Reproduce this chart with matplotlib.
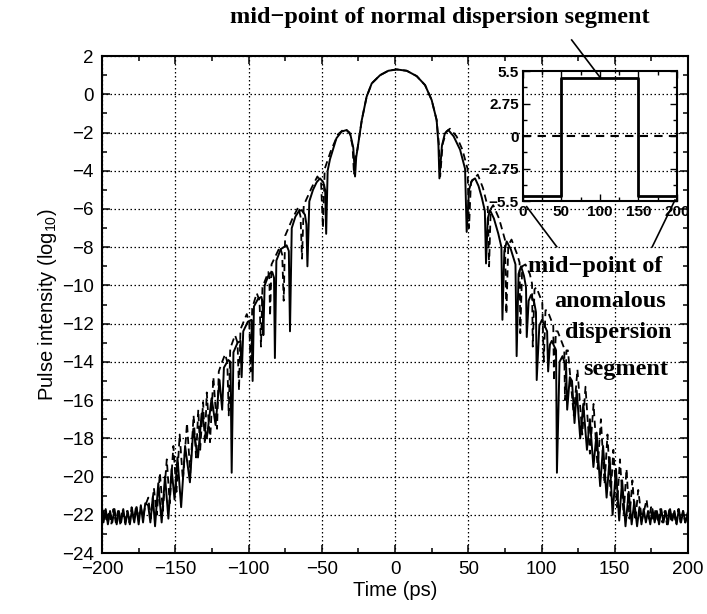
import matplotlib
matplotlib.use('Agg')
import matplotlib.pyplot as plt
from matplotlib.lines import Line2D
import numpy as np

plt.rcParams['font.family'] = ['Liberation Sans', 'DejaVu Sans']
plt.rcParams['mathtext.default'] = 'regular'

# ---- pulse intensity (log10) vs time (ps) ----
# central lobe, shared by both curves
core = [(-25.7, -2.9), (-22.7, -1.35), (-19.4, -0.13), (-15.9, 0.57), (-10.2, 1.0),
        (-4.6, 1.23), (1.1, 1.30), (8.0, 1.23), (14.8, 0.95), (20.5, 0.48),
        (25.0, -0.3), (28.4, -1.35)]

# solid curve
solid_floor_left = [(-200, -21.9), (-199, -22.4), (-197.5, -21.7), (-196, -22.5), (-194.5, -21.8),
                    (-193, -22.4), (-191.5, -21.7), (-190, -22.5), (-188.5, -21.8), (-187, -22.4),
                    (-185.5, -21.7), (-184, -22.5), (-182.5, -21.8), (-181, -22.5), (-179.5, -21.7),
                    (-178, -22.4), (-176.5, -21.6), (-175, -22.5), (-173.5, -21.5), (-172, -22.4),
                    (-170.5, -21.4)]
solid_left = [(-168.5, -21.5), (-167, -22.4), (-165.3, -21.05), (-163.8, -22.6), (-161.6, -20.35),
              (-159.3, -22.4), (-157, -20.0), (-154.7, -22.2), (-152.5, -19.6), (-150.5, -21.2),
              (-148.5, -19.0), (-146, -21.6), (-143.3, -18.4), (-140, -20.3), (-137.7, -17.5),
              (-134.5, -19.0), (-132, -16.7), (-128.5, -18.0), (-125.2, -15.9), (-122.5, -17.3),
              (-119.8, -14.95), (-118, -16.5), (-116.8, -14.3), (-113.8, -13.9), (-112.3, -14.0),
              (-111.5, -19.8), (-110.3, -13.5), (-107.5, -13.0), (-105.5, -12.9), (-104.7, -14.8),
              (-103.6, -12.4), (-100.5, -11.9), (-98, -11.8), (-97.2, -15.0), (-96.3, -11.1),
              (-93.5, -10.7), (-91.2, -10.6), (-90.4, -10.9), (-89.9, -12.6), (-89, -10.0),
              (-86, -9.4), (-83.8, -9.3), (-82.6, -9.6), (-82, -13.8), (-81, -8.7),
              (-78, -8.1), (-74, -7.9), (-72.5, -8.2), (-71.7, -12.4), (-70.5, -7.0),
              (-68, -6.4), (-65.5, -6.1), (-63.8, -6.06), (-61.5, -6.3), (-60.5, -6.8),
              (-59.8, -9.0), (-58.5, -5.6), (-56, -5.0), (-53.5, -4.6), (-51.2, -4.4),
              (-49, -4.6), (-47.7, -5.0), (-47, -7.3), (-46, -4.0), (-44.4, -3.4),
              (-40, -2.3), (-36.5, -1.95), (-33, -1.87), (-30.5, -2.1), (-28.5, -2.8),
              (-27.3, -4.3), (-26.5, -3.3)]
solid_right = [(29.6, -2.6), (30.3, -4.4), (32, -2.7), (34, -2.05), (36.4, -1.87),
               (40, -2.2), (44.4, -2.9), (47.8, -3.9), (48.9, -7.2), (50.5, -5.0),
               (52.5, -4.5), (54.6, -4.4), (57, -4.8), (59.2, -5.4), (61.3, -6.1),
               (62.1, -8.85), (63.3, -6.5), (64.8, -6.06), (67.5, -6.5), (70.5, -7.3),
               (72.6, -8.0), (73.3, -11.8), (74.6, -8.2), (76.2, -7.7), (79, -8.1),
               (82.2, -8.9), (83, -13.7), (84.3, -9.4), (86, -9.0), (88, -9.5),
               (89.4, -10.1), (89.9, -12.7), (91.2, -10.8), (92.8, -10.5), (95, -10.9),
               (96.2, -11.4), (96.7, -14.95), (98.5, -12.1), (100.3, -11.8), (103.8, -12.4),
               (104.5, -14.5), (105.7, -13.1), (107, -12.9), (109.9, -13.4), (110.5, -19.8),
               (112.3, -14.0), (114.3, -13.7), (116.8, -14.3), (117.5, -16.5), (119.3, -14.8),
               (120.8, -15.0), (122.5, -17.2), (124, -15.5), (126.4, -18.0), (128.5, -16.2),
               (131, -18.6), (133, -17.0), (135.4, -19.5), (137.6, -17.7), (140, -20.5),
               (142, -18.4), (144.4, -21.1), (146.5, -19.0), (148.5, -22.0), (150.8, -19.6),
               (153, -22.3), (155, -20.2), (157.3, -22.6), (159.5, -20.8), (161.5, -22.5),
               (163.3, -21.3), (165.2, -22.6), (166.8, -21.6)]
solid_floor_right = [(168.2, -22.5), (169.7, -21.7), (171.2, -22.4), (172.7, -21.8), (174.2, -22.5),
                     (175.7, -21.7), (177.2, -22.4), (178.7, -21.8), (180.2, -22.5), (181.7, -21.7),
                     (183.2, -22.4), (184.7, -21.8), (186.2, -22.5), (187.7, -21.7), (189.2, -22.3),
                     (190.7, -21.8), (192.2, -22.5), (193.7, -21.7), (195.2, -22.4), (196.7, -21.8),
                     (198.2, -22.4), (200, -21.9)]

# dashed curve
dash_floor_left = [(-200, -22.1), (-198.3, -21.7), (-196.8, -22.4), (-195.2, -21.8), (-193.7, -22.5),
                   (-192.2, -21.7), (-190.6, -22.4), (-189.1, -21.8), (-187.5, -22.5), (-186, -21.7),
                   (-184.4, -22.4), (-182.9, -21.8), (-181.3, -22.4), (-179.8, -21.6), (-178.2, -22.3),
                   (-176.7, -21.5), (-175.1, -22.2), (-173.6, -21.6), (-172, -22.1), (-170.4, -21.5)]
dash_left = [(-168.4, -21.1), (-166.8, -22.2), (-164.6, -20.6), (-162.6, -22.0), (-160.5, -19.8),
             (-158.5, -21.8), (-155.8, -19.1), (-153.8, -21.4), (-151.3, -18.4), (-149.2, -20.8),
             (-147, -17.8), (-144.8, -20.2), (-142, -17.2), (-139.8, -19.8), (-137.5, -16.8),
             (-135.8, -19.0), (-134.3, -16.5), (-133, -18.6), (-131, -16.1), (-129.8, -18.3),
             (-128.5, -15.6), (-126.3, -18.2), (-124, -14.8), (-121.5, -17.5), (-120.3, -14.5),
             (-118, -14.0), (-116, -13.6), (-114.5, -14.0), (-113.5, -16.8), (-112.5, -13.3),
             (-109.2, -12.6), (-107.5, -13.0), (-106.5, -15.5), (-105.5, -12.3), (-101.2, -11.5),
             (-99.5, -11.9), (-98.5, -14.5), (-97.5, -11.2), (-94.4, -10.4), (-92.5, -10.8),
             (-91.5, -13.2), (-90.5, -10.1), (-86.5, -9.3), (-85.8, -9.6), (-85.3, -11.6),
             (-84.3, -8.9), (-78.5, -7.97), (-77, -8.4), (-76, -10.8), (-75, -7.4),
             (-70, -6.5), (-66, -5.9), (-64.5, -6.4), (-63.5, -8.6), (-62.3, -5.8),
             (-57, -4.9), (-53, -4.3), (-50.5, -4.6), (-49.2, -7.0), (-48, -3.9),
             (-44, -3.0), (-39, -2.1), (-34.5, -1.8), (-31, -2.0), (-29, -2.7),
             (-28, -4.2), (-27, -3.2)]
dash_right = [(29.8, -2.5), (30.8, -4.3), (32.5, -2.6), (35, -1.95), (37.5, -1.8),
              (42, -2.2), (46, -2.9), (49.5, -3.9), (50.5, -7.0), (51.8, -4.6),
              (56.5, -4.2), (60, -4.9), (63.3, -5.9), (64.2, -9.0), (65.3, -6.0),
              (67, -5.8), (71, -6.5), (75, -7.6), (76, -11.5), (77.3, -7.9),
              (79.5, -7.6), (83, -8.3), (85, -8.8), (85.5, -12.5), (86.8, -9.0),
              (89, -8.9), (92, -9.4), (93.5, -9.9), (94, -13.2), (95.2, -10.2),
              (96.5, -10.1), (100.5, -10.9), (101.5, -14.0), (102.7, -11.3), (104, -11.3),
              (108, -12.1), (108.5, -15.0), (109.8, -12.4), (111, -12.4), (115.5, -13.3),
              (116, -16.0), (117, -13.4), (118, -13.4), (122, -16.8), (124.5, -14.4),
              (127.8, -17.8), (130, -15.3), (133, -18.8), (135.5, -16.2), (138.3, -19.6),
              (140.5, -17.0), (143, -20.4), (145, -17.8), (147.2, -21.0), (149, -18.6),
              (151.5, -21.6), (153.5, -19.1), (156, -22.0), (158, -19.6), (160, -22.2),
              (162, -20.2), (164, -22.3), (166, -20.7), (168.5, -22.3), (171.7, -21.2)]
dash_floor_right = [(173.2, -22.2), (174.8, -21.6), (176.3, -22.3), (177.9, -21.7), (179.4, -22.4),
                    (181, -21.7), (182.5, -22.4), (184.1, -21.8), (185.6, -22.5), (187.2, -21.7),
                    (188.7, -22.4), (190.3, -21.8), (191.8, -22.5), (193.4, -21.7), (194.9, -22.4),
                    (196.5, -21.8), (198, -22.4), (200, -21.8)]

# inset: dispersion map along the span
map_x = [0, 50, 50, 150, 150, 200]
map_y = [-5.1, -5.1, 4.9, 4.9, -5.1, -5.1]
zero_x = [0, 200]
zero_y = [0, 0]

solid = np.array(solid_floor_left + solid_left + core + solid_right + solid_floor_right)
dashed = np.array(dash_floor_left + dash_left + core + dash_right + dash_floor_right)

fig = plt.figure(figsize=(7.07, 6.14), dpi=100)
ax = fig.add_axes([0.1443, 0.0993, 0.8289, 0.8094])

ax.plot(solid[:, 0], solid[:, 1], '-', color='black', lw=1.4)
ax.plot(dashed[:, 0], dashed[:, 1], '--', color='black', lw=1.3, dashes=(4, 2.5))

ax.set_xlim(-200, 200)
ax.set_ylim(-24, 2)
ax.set_xticks(np.arange(-200, 201, 50))
ax.set_xticks(np.arange(-175, 200, 50), minor=True)
ax.set_yticks(np.arange(-24, 3, 2))
ax.set_yticks(np.arange(-23, 2, 2), minor=True)
ax.grid(True, which='major', color='black', linestyle=(0, (1.2, 2)), lw=0.9)
ax.tick_params(which='both', direction='in', top=True, right=True, width=1.1)
ax.tick_params(which='major', length=6, labelsize=13.5, pad=6)
ax.tick_params(which='minor', length=3.5)
for s in ax.spines.values():
    s.set_linewidth(1.5)
ax.set_xlabel('Time (ps)', fontsize=14.5, labelpad=2)
ax.set_ylabel('Pulse intensity (log$_{10}$)', fontsize=14.5, labelpad=2)

# inset
axi = fig.add_axes([0.7397, 0.6726, 0.2178, 0.2117], facecolor='none')
axi.plot(map_x, map_y, '-', color='black', lw=2.0)
axi.plot(zero_x, zero_y, '--', color='black', lw=1.5, dashes=(4, 3))
axi.set_xlim(0, 200)
axi.set_ylim(-5.5, 5.5)
axi.set_xticks([0, 50, 100, 150, 200])
axi.set_xticks([25, 75, 125, 175], minor=True)
axi.set_yticks([-5.5, -2.75, 0, 2.75, 5.5])
axi.set_yticklabels(['\u22125.5', '\u22122.75', '0', '2.75', '5.5'])
axi.set_yticks([-4.125, -1.375, 1.375, 4.125], minor=True)
axi.tick_params(which='both', direction='in', top=True, right=True, width=1)
axi.tick_params(which='major', length=5, labelsize=11, pad=3)
axi.tick_params(which='minor', length=3)
for lab in axi.get_xticklabels() + axi.get_yticklabels():
    lab.set_fontweight('bold')
for s in axi.spines.values():
    s.set_linewidth(1.5)

# annotations
W, H = 707.0, 614.0
def fp(x, y):
    return (x / W, 1 - y / H)

serif = dict(family=['Liberation Serif', 'DejaVu Serif'], fontweight='bold', fontsize=17.5)
fig.text(*fp(440, 23), 'mid\u2212point of normal dispersion segment', ha='center', va='baseline', **serif)
fig.text(*fp(528, 271.7), 'mid\u2212point of', ha='left', va='baseline', **serif)
fig.text(*fp(554, 306.7), 'anomalous', ha='left', va='baseline', **serif)
fig.text(*fp(565, 338), 'dispersion', ha='left', va='baseline', **serif)
fig.text(*fp(583, 375), 'segment', ha='left', va='baseline', **serif)

for (x0, y0), (x1, y1) in [((571.7, 40), (600, 77.3)),
                           ((556.7, 246.7), (526.7, 206.7)),
                           ((652.3, 246.7), (675, 200))]:
    a, b = fp(x0, y0)
    c, d = fp(x1, y1)
    fig.add_artist(Line2D([a, c], [b, d], color='black', lw=1.2))

fig.savefig('out.png', dpi=100)
